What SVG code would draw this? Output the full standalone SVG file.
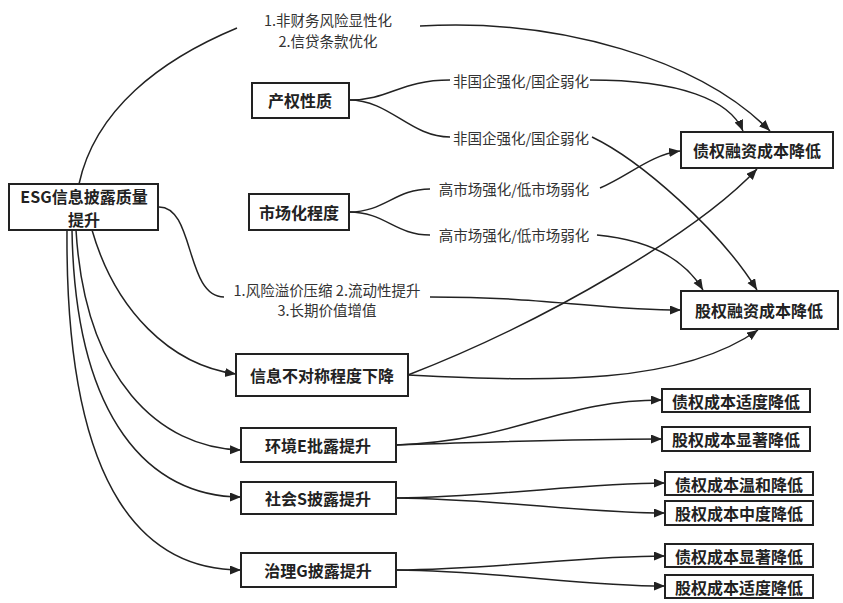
<svg xmlns="http://www.w3.org/2000/svg" width="843" height="603" viewBox="0 0 843 603">
<style>
.box{fill:#fff;stroke:#222;stroke-width:2}
.bt{font-family:"Noto Sans CJK SC","Noto Sans",sans-serif;font-weight:bold;font-size:16px;fill:#222;text-anchor:middle;dominant-baseline:central}
.lb{font-family:"Noto Sans CJK SC","Noto Sans",sans-serif;font-size:14.5px;fill:#333;text-anchor:middle;dominant-baseline:central}
.c{fill:none;stroke:#222;stroke-width:1.5}
.a{marker-end:url(#ar)}
</style>
<defs>
<marker id="ar" markerUnits="userSpaceOnUse" markerWidth="12" markerHeight="10" refX="11" refY="4.5" orient="auto">
<path d="M0,0 L11,4.5 L0,9 z" fill="#222"/>
</marker>
</defs>
<rect width="843" height="603" fill="#fff"/>
<g id="connectors">
<path class="c" d="M79 184 C95 110,160 60,237 28"/>
<path class="c a" d="M420 26 C560 18,700 60,770 131"/>
<path class="c" d="M349 100 C390 100,400 80,450 80"/>
<path class="c a" d="M590 80 C680 80,730 100,743 131"/>
<path class="c" d="M349 100 C390 100,410 137,450 137"/>
<path class="c a" d="M592 137 C640 160,720 230,757 290"/>
<path class="c" d="M349 212 C385 212,395 189,430 189"/>
<path class="c a" d="M600 188 C630 175,650 155,680 151"/>
<path class="c" d="M349 212 C385 212,395 235,430 235"/>
<path class="c a" d="M597 235 C650 240,685 260,703 290"/>
<path class="c" d="M158 207 C195 205,185 297,224 297"/>
<path class="c a" d="M430 297 C550 297,600 310,681 310"/>
<path class="c a" d="M408 375 C550 320,700 230,757 169"/>
<path class="c a" d="M408 375 C550 382,680 385,758 330"/>
<path class="c a" d="M92 230 C115 310,170 365,236 374"/>
<path class="c a" d="M76 230 C85 380,160 448,241 450"/>
<path class="c a" d="M72 230 C75 420,150 497,241 497"/>
<path class="c a" d="M67 230 C65 500,150 570,241 570"/>
<path class="c a" d="M396 445 C520 440,560 400,662 400"/>
<path class="c a" d="M396 445 C500 442,560 439,662 439"/>
<path class="c a" d="M396 498 C500 497,580 483,665 483"/>
<path class="c a" d="M396 498 C500 499,580 513,665 513"/>
<path class="c a" d="M396 570 C500 569,580 556,665 556"/>
<path class="c a" d="M396 570 C500 571,580 586,665 586"/>
</g>
<g id="labels">
<text class="lb" x="328" y="19">1.非财务风险显性化</text>
<text class="lb" x="328" y="40">2.信贷条款优化</text>
<text class="lb" x="521" y="80">非国企强化/国企弱化</text>
<text class="lb" x="521" y="137">非国企强化/国企弱化</text>
<text class="lb" x="514" y="188">高市场强化/低市场弱化</text>
<text class="lb" x="514" y="234">高市场强化/低市场弱化</text>
<text class="lb" x="327" y="289">1.风险溢价压缩 2.流动性提升</text>
<text class="lb" x="327" y="309">3.长期价值增值</text>
</g>
<g id="n-esg"><rect class="box" x="9" y="184" width="149" height="46"/><text class="bt" x="84" y="196">ESG信息披露质量</text><text class="bt" x="84" y="219">提升</text></g>
<g id="n-cq"><rect class="box" x="252" y="83" width="97" height="35"/><text class="bt" x="300" y="100">产权性质</text></g>
<g id="n-sc"><rect class="box" x="249" y="194" width="100" height="36"/><text class="bt" x="299" y="212">市场化程度</text></g>
<g id="n-zq"><rect class="box" x="681" y="132" width="152" height="36"/><text class="bt" x="757" y="150">债权融资成本降低</text></g>
<g id="n-gq"><rect class="box" x="681" y="291" width="157" height="38"/><text class="bt" x="759" y="310">股权融资成本降低</text></g>
<g id="n-xx"><rect class="box" x="236" y="354" width="172" height="42"/><text class="bt" x="322" y="375">信息不对称程度下降</text></g>
<g id="n-e"><rect class="box" x="241" y="428" width="155" height="34"/><text class="bt" x="318" y="445">环境E批露提升</text></g>
<g id="n-s"><rect class="box" x="241" y="482" width="155" height="32"/><text class="bt" x="318" y="498">社会S披露提升</text></g>
<g id="n-g"><rect class="box" x="241" y="553" width="155" height="34"/><text class="bt" x="318" y="570">治理G披露提升</text></g>
<g id="n-e1"><rect class="box" x="662" y="389" width="148" height="23"/><text class="bt" x="736" y="400.5">债权成本适度降低</text></g>
<g id="n-e2"><rect class="box" x="662" y="427" width="148" height="24"/><text class="bt" x="736" y="439">股权成本显著降低</text></g>
<g id="n-s1"><rect class="box" x="665" y="472" width="148" height="23"/><text class="bt" x="739" y="483.5">债权成本温和降低</text></g>
<g id="n-s2"><rect class="box" x="665" y="501" width="148" height="24"/><text class="bt" x="739" y="513">股权成本中度降低</text></g>
<g id="n-g1"><rect class="box" x="665" y="544" width="148" height="23"/><text class="bt" x="739" y="555.5">债权成本显著降低</text></g>
<g id="n-g2"><rect class="box" x="665" y="575" width="148" height="23"/><text class="bt" x="739" y="586.5">股权成本适度降低</text></g>
</svg>
